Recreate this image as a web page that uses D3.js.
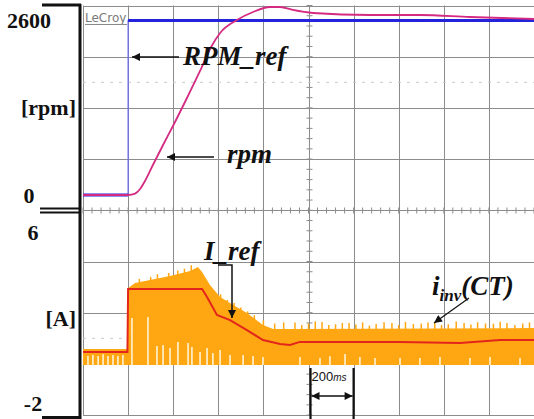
<!DOCTYPE html>
<html><head><meta charset="utf-8">
<script src="https://cdn.jsdelivr.net/npm/d3@7"></script>
<style>body{margin:0;background:#fff} svg{display:block}</style>
</head><body>
<svg id="c" width="534" height="419"></svg>
<script>
// ---------- data (time in ms, 200 ms / division) ----------
const timeDomain = [0, 2000];
const rpmRefTime  = [0, 200, 200, 2000];
const rpmRefValue = [0, 0, 2600, 2600];
const rpmTime  = [0, 200, 231, 253, 275, 310, 355, 399, 461, 519, 568, 608, 683, 754, 829, 874, 931, 1020, 1273, 1494, 1716, 2000];
const rpmValue = [0, 0, 20, 89, 209, 447, 745, 1028, 1445, 1848, 2205, 2414, 2608, 2727, 2801, 2801, 2757, 2712, 2682, 2682, 2652, 2622];
const iRefTime  = [0, 197, 200, 528, 550, 594, 652, 727, 798, 874, 918, 962, 1051, 1406, 1672, 1849, 2000];
const iRefValue = [0.46, 0.46, 2.93, 2.93, 2.61, 1.91, 1.71, 1.32, 0.93, 0.78, 0.74, 0.86, 0.86, 0.86, 0.82, 0.93, 0.93];
const iInvTime  = [0, 197, 200, 231, 297, 386, 475, 510, 528, 563, 608, 674, 727, 798, 843, 918, 2000];
const iInvUpper = [0.58, 0.58, 2.96, 3.16, 3.28, 3.43, 3.63, 3.79, 3.59, 3.08, 2.61, 2.26, 1.99, 1.52, 1.36, 1.36, 1.40];
const iInvLower = [-0.04, -0.04, -0.04, -0.04, -0.04, -0.04, -0.04, -0.04, -0.04, -0.04, -0.04, -0.04, -0.04, -0.04, -0.04, -0.04, -0.04];
const gapTime = [22, 44, 67, 89, 111, 133, 155, 177, 217, 288, 328, 355, 386, 421, 466, 483, 519, 550, 576, 608, 652, 710, 754, 798, 962, 1051, 1095, 1162, 1228, 1295, 1406, 1494, 1583, 1716, 1805, 1938];
const gapTop  = [0.31, 0.35, 0.31, 0.38, 0.31, 0.35, 0.31, 0.35, 1.79, 1.83, 0.70, 0.74, 0.62, 0.86, 0.82, 0.66, 0.46, 0.62, 0.43, 0.54, 0.35, 0.35, 0.31, 0.27, 0.27, 0.23, 0.30, 0.39, 0.27, 0.23, 0.23, 0.23, 0.27, 0.23, 0.27, 0.23];
const peakTime = [250, 300, 330, 380, 420, 450, 480, 610, 640, 670, 700, 730, 760, 800, 850, 890, 940, 970, 1000, 1030, 1060, 1090, 1120, 1150, 1180, 1210, 1240, 1270, 1300, 1335, 1370, 1400, 1430, 1465, 1500, 1530, 1560, 1590, 1620, 1655, 1690, 1720, 1750, 1785, 1820, 1850, 1880, 1915, 1950, 1980];
const peakTop  = [3.32, 3.40, 3.50, 3.55, 3.65, 3.72, 3.85, 2.72, 2.50, 2.38, 2.20, 2.05, 1.90, 1.70, 1.58, 1.62, 1.62, 1.52, 1.58, 1.66, 1.64, 1.52, 1.55, 1.60, 1.60, 1.54, 1.62, 1.50, 1.56, 1.63, 1.60, 1.52, 1.64, 1.56, 1.58, 1.62, 1.62, 1.52, 1.55, 1.66, 1.60, 1.54, 1.63, 1.58, 1.57, 1.65, 1.60, 1.52, 1.58, 1.62];
const rpmTickValues = [2600, 0];
const rpmTickLabels = ["2600", "0"];
const rpmUnit = "[rpm]";
const curTickValues = [6, -2];
const curTickLabels = ["6", "-2"];
const curUnit = "[A]";

// ---------- layout ----------
const gL = 83, gR = 534, gT = 5.5, gB = 415.1;
const svg = d3.select("#c");
const x = d3.scaleLinear(timeDomain, [gL, gR]);
const yRpm = d3.scaleLinear([0, 2600], [195, 20.5]);
const yCur = d3.scaleLinear([-2, 6], [gB, 210.3]);
const yDiv = d3.scaleLinear([0, 8], [gT, gB]);

// grid
const grid = svg.append("g").attr("stroke", "#8c8c8c").attr("stroke-width", 1);
d3.range(0, 11).forEach(i => {
  const xx = Math.round(x(i * 200)) + 0.5;
  grid.append("line").attr("x1", xx).attr("x2", xx).attr("y1", gT).attr("y2", gB);
});
d3.range(0, 9).forEach(i => {
  const yy = Math.round(yDiv(i)) + 0.5;
  grid.append("line").attr("x1", gL).attr("x2", gR).attr("y1", yy).attr("y2", yy);
});
// faint dotted reference lines
[yDiv(1.5), yDiv(6.5)].forEach(yy => {
  svg.append("line").attr("x1", gL).attr("x2", gR).attr("y1", yy).attr("y2", yy)
    .attr("stroke", "#c8c8c8").attr("stroke-dasharray", "3,6");
});
// centre-line minor ticks
const cx = Math.round(x(1000)) + 0.5, cy = Math.round(yDiv(4)) + 0.5;
d3.range(0, 41).forEach(i => {
  const yy = yDiv(i / 5);
  grid.append("line").attr("x1", cx - 3).attr("x2", cx + 3).attr("y1", yy).attr("y2", yy);
});
d3.range(0, 51).forEach(i => {
  const xx = x(i * 40);
  grid.append("line").attr("x1", xx).attr("x2", xx).attr("y1", cy - 3).attr("y2", cy + 3);
});

// LeCroy logo
svg.append("text").attr("x", 85).attr("y", 22).text("LeCroy")
  .attr("font-family", "DejaVu Sans").attr("font-size", 12).attr("fill", "#7a7a7a");
svg.append("line").attr("x1", 85).attr("x2", 127).attr("y1", 24.5).attr("y2", 24.5)
  .attr("stroke", "#8a8a8a").attr("stroke-width", 1);

// ---------- inverter current (orange band) ----------
const inv = iInvTime.map((t, i) => ({t, u: iInvUpper[i], l: iInvLower[i]}));
svg.append("path").datum(inv)
  .attr("d", d3.area().x(d => x(d.t)).y0(d => yCur(d.l)).y1(d => yCur(d.u)))
  .attr("fill", "#ffa712");
peakTime.forEach((t, i) => {
  svg.append("line").attr("x1", x(t)).attr("x2", x(t)).attr("y1", yCur(peakTop[i] - 0.3)).attr("y2", yCur(peakTop[i]))
    .attr("stroke", "#ffa712").attr("stroke-width", 1.5);
});
gapTime.forEach((t, i) => {
  svg.append("line").attr("x1", x(t)).attr("x2", x(t)).attr("y1", yCur(-0.04)).attr("y2", yCur(gapTop[i]))
    .attr("stroke", "#fff3d6").attr("stroke-width", 1.6);
});

// current reference (red)
const iRef = iRefTime.map((t, i) => ({t, v: iRefValue[i]}));
svg.append("path").datum(iRef)
  .attr("d", d3.line().x(d => x(d.t)).y(d => yCur(d.v)))
  .attr("fill", "none").attr("stroke", "#e3261c").attr("stroke-width", 2);

// speed reference (blue)
const rRef = rpmRefTime.map((t, i) => ({t, v: rpmRefValue[i]}));
svg.append("path").datum(rRef)
  .attr("d", d3.line().x(d => x(d.t)).y(d => yRpm(d.v)))
  .attr("fill", "none").attr("stroke", "#6a6af0").attr("stroke-width", 1.2);
for (let i = 0; i < rRef.length - 1; i++) {
  if (rRef[i].v === rRef[i + 1].v) {
    svg.append("line").attr("x1", x(rRef[i].t)).attr("x2", x(rRef[i + 1].t))
      .attr("y1", yRpm(rRef[i].v)).attr("y2", yRpm(rRef[i].v))
      .attr("stroke", "#2323dc").attr("stroke-width", 3);
  }
}

// speed (magenta)
const rpm = rpmTime.map((t, i) => ({t, v: rpmValue[i]}));
svg.append("path").datum(rpm)
  .attr("d", d3.line().curve(d3.curveMonotoneX).x(d => x(d.t)).y(d => yRpm(d.v)))
  .attr("fill", "none").attr("stroke", "#d42a82").attr("stroke-width", 1.8);

// ---------- left axis decorations ----------
const ax = svg.append("g").attr("stroke", "#111");
ax.append("line").attr("x1", 80).attr("x2", 80).attr("y1", 4).attr("y2", 419).attr("stroke-width", 3);
ax.append("line").attr("x1", 42).attr("x2", 81).attr("y1", 5).attr("y2", 5).attr("stroke-width", 3);
ax.append("line").attr("x1", 40).attr("x2", 80).attr("y1", 208.5).attr("y2", 208.5).attr("stroke-width", 2);
ax.append("line").attr("x1", 40).attr("x2", 80).attr("y1", 212.5).attr("y2", 212.5).attr("stroke-width", 2);
ax.append("line").attr("x1", 42).attr("x2", 81).attr("y1", 417.5).attr("y2", 417.5).attr("stroke-width", 3);

const lab = svg.append("g").attr("font-family", "Liberation Serif").attr("font-weight", "bold")
  .attr("font-size", 22).attr("fill", "#111");
rpmTickValues.forEach((v, i) => {
  lab.append("text").attr("x", 29).attr("y", yRpm(v)).attr("dy", "0.35em")
    .attr("text-anchor", "middle").text(rpmTickLabels[i]);
});
lab.append("text").attr("x", 76).attr("y", yRpm(1300)).attr("dy", "0.35em")
  .attr("text-anchor", "end").text(rpmUnit);
curTickValues.forEach((v, i) => {
  const off = i === 0 ? 22 : -12;
  lab.append("text").attr("x", 33).attr("y", yCur(v) + off).attr("dy", "0.35em")
    .attr("text-anchor", "middle").text(curTickLabels[i]);
});
lab.append("text").attr("x", 76).attr("y", yCur(1.8)).attr("dy", "0.35em")
  .attr("text-anchor", "end").text(curUnit);

// ---------- annotations ----------
const defs = svg.append("defs");
defs.append("marker").attr("id", "ah").attr("viewBox", "0 0 10 10").attr("refX", 10).attr("refY", 5)
  .attr("markerWidth", 10).attr("markerHeight", 8).attr("markerUnits", "userSpaceOnUse").attr("orient", "auto")
  .append("path").attr("d", "M0,0 L10,5 L0,10 Z").attr("fill", "#111");
defs.append("marker").attr("id", "ahs").attr("viewBox", "0 0 10 10").attr("refX", 10).attr("refY", 5)
  .attr("markerWidth", 10).attr("markerHeight", 8).attr("markerUnits", "userSpaceOnUse").attr("orient", "auto-start-reverse")
  .append("path").attr("d", "M0,0 L10,5 L0,10 Z").attr("fill", "#111");

const ann = svg.append("g").attr("font-family", "Liberation Serif").attr("font-weight", "bold")
  .attr("font-style", "italic").attr("font-size", 27).attr("fill", "#111");
ann.append("text").attr("x", 183).attr("y", 65).text("RPM_ref");
ann.append("text").attr("x", 227).attr("y", 163).text("rpm");
ann.append("text").attr("x", 204).attr("y", 260).text("I_ref");
const it = ann.append("text").attr("x", 432).attr("y", 295);
it.append("tspan").text("i");
it.append("tspan").attr("font-size", 17).attr("dy", 6).text("inv");
it.append("tspan").attr("dy", -6).text("(CT)");

const ar = svg.append("g").attr("stroke", "#111").attr("stroke-width", 1.5).attr("fill", "none");
ar.append("line").attr("x1", 179).attr("x2", 132).attr("y1", 57).attr("y2", 57).attr("marker-end", "url(#ah)");
ar.append("line").attr("x1", 214).attr("x2", 167).attr("y1", 157).attr("y2", 157).attr("marker-end", "url(#ah)");
ar.append("path").attr("d", "M218,265 H232 V318").attr("marker-end", "url(#ah)");
ar.append("line").attr("x1", 469).attr("x2", 434).attr("y1", 298).attr("y2", 323).attr("stroke-width", 1.2).attr("marker-end", "url(#ah)");

// 200 ms scale marker
const t0 = x(1000) + 2, t1 = x(1200);
ar.append("line").attr("x1", t0).attr("x2", t0).attr("y1", 368).attr("y2", 419).attr("stroke-width", 2.2);
ar.append("line").attr("x1", t1).attr("x2", t1).attr("y1", 368).attr("y2", 419).attr("stroke-width", 2.2);
ar.append("line").attr("x1", t0 + 1).attr("x2", t1 - 1).attr("y1", 396).attr("y2", 396)
  .attr("marker-start", "url(#ahs)").attr("marker-end", "url(#ah)");
const ms = svg.append("text").attr("x", t0 + 1).attr("y", 381).attr("font-family", "Liberation Sans")
  .attr("font-size", 13).attr("fill", "#111");
ms.append("tspan").text("200");
ms.append("tspan").attr("font-style", "italic").attr("font-size", 10).text("ms");
</script>
</body></html>
